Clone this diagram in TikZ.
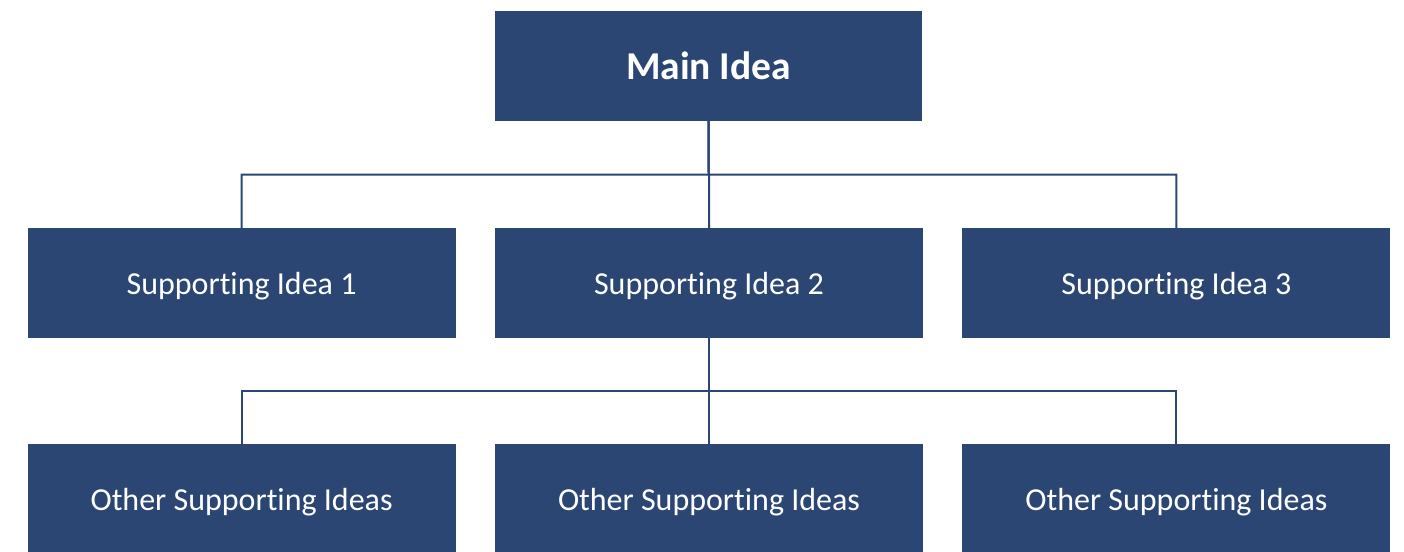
\documentclass[tikz,border=0pt]{standalone}
\usepackage{fontspec}
\setmainfont[Ligatures=NoCommon]{Carlito}
\usepackage{xcolor}
\usepackage{tikz}
\usetikzlibrary{positioning, calc}
\definecolor{ideablue}{HTML}{2C4674}
\begin{document}
\begin{tikzpicture}[x=1pt,y=-1pt,
  idea/.style={fill=ideablue, text=white, minimum width=428pt, minimum height=110pt, inner sep=0pt, text depth=0pt, font=\fontsize{32}{36}\selectfont},
  link/.style={draw=ideablue, line width=2pt}]
\useasboundingbox (0,0) rectangle (1404,551);
\node[idea, minimum width=427pt, font=\bfseries\fontsize{39.5}{46}\selectfont] (main) at (708.5,66) {Main Idea};
\node[idea] (sup2) at (709,283) {Supporting Idea 2};
\node[idea, left=39pt of sup2] (sup1) {Supporting Idea 1};
\node[idea, right=39pt of sup2] (sup3) {Supporting Idea 3};
\node[idea, below=106pt of sup2] (oth2) {Other Supporting Ideas};
\node[idea, left=39pt of oth2] (oth1) {Other Supporting Ideas};
\node[idea, right=39pt of oth2] (oth3) {Other Supporting Ideas};
% junctions halfway between the rows
\path (main.south) -- coordinate[pos=.5] (j1) (sup2.north);
\path (sup2.south) -- coordinate[pos=.5] (j2) (oth2.north);
\foreach \n in {sup1,sup2,sup3} % edit here for the first row
\draw[link] (main.south) -- (j1) -| (\n.north);
\foreach \n in {oth1,oth2,oth3} % edit here for the second row
\draw[link] (sup2.south) -- (j2) -| (\n.north);
\end{tikzpicture}
\end{document}
